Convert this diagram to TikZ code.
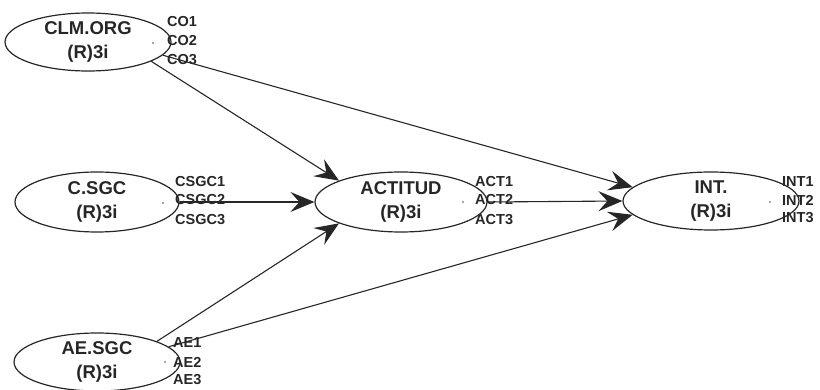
\documentclass[tikz,border=0pt]{standalone}
\usepackage{fontspec}
\setmainfont{Liberation Sans}
\usetikzlibrary{arrows.meta,shapes.geometric}

\tikzset{
  lv/.style={ellipse, draw=black!85, line width=1.2pt, inner sep=0pt,
    align=center, text=black!85, font=\fontsize{18.5}{23.5}\selectfont\bfseries},
  ind/.style={anchor=west, inner sep=0pt, text=black!85,
    font=\fontsize{14.5}{15}\selectfont\bfseries},
  pt/.style={circle, fill=black!70, inner sep=0pt, minimum size=1.6pt},
  link/.style={draw=black!85, line width=1.1pt,
    -{Stealth[length=24pt, width=20pt, inset=9pt]}}
}

\begin{document}
\begin{tikzpicture}[x=1pt, y=-1pt]
\useasboundingbox (0,0) rectangle (820,390);

% latent variables
\node[lv, minimum width=166pt, minimum height=58pt] (clm) at (88,42)  {CLM.ORG\\(R)3i};
\node[lv, minimum width=164pt, minimum height=60pt] (csgc) at (97,202) {C.SGC\\(R)3i};
\node[lv, minimum width=166pt, minimum height=58pt] (ae)  at (97,362) {AE.SGC\\(R)3i};
\node[lv, minimum width=172pt, minimum height=60pt] (act) at (401,202) {ACTITUD\\(R)3i};
\node[lv, minimum width=176pt, minimum height=58pt] (int) at (711,201) {INT.\\(R)3i};

% small markers beside the indicator lists
\node[pt] (dclm) at (153,43) {};
\node[pt] (dcsgc) at (163,203) {};
\node[pt] (dae) at (165,362) {};
\node[pt] (dact) at (463,202) {};
\node[pt] (dint) at (770,202) {};

% indicators
\node[ind] (co1) at (167,22) {CO1};
\node[ind] (co2) at (167,41) {CO2};
\node[ind] (co3) at (167,60) {CO3};
\node[ind] (cs1) at (175,182) {CSGC1};
\node[ind] (cs2) at (175,200) {CSGC2};
\node[ind] (cs3) at (175,220) {CSGC3};
\node[ind] (ae1) at (173,343) {AE1};
\node[ind] (ae2) at (173,362) {AE2};
\node[ind] (ae3) at (173,380) {AE3};
\node[ind] (act1) at (475,182) {ACT1};
\node[ind] (act2) at (475,200) {ACT2};
\node[ind] (act3) at (475,220) {ACT3};
\node[ind] (int1) at (782,182) {INT1};
\node[ind] (int2) at (782,200) {INT2};
\node[ind] (int3) at (782,218) {INT3};

% structural paths
\draw[link] (clm.-17) -- (act.161);
\draw[link] (clm.-10) -- (int.170);
\draw[link] (csgc.0) -- (act.180);
\draw[link] (ae.19) -- (act.199);
\draw[link] (ae.12) -- (int.190);
\draw[link] (act.0) -- (int.180);
\end{tikzpicture}
\end{document}
